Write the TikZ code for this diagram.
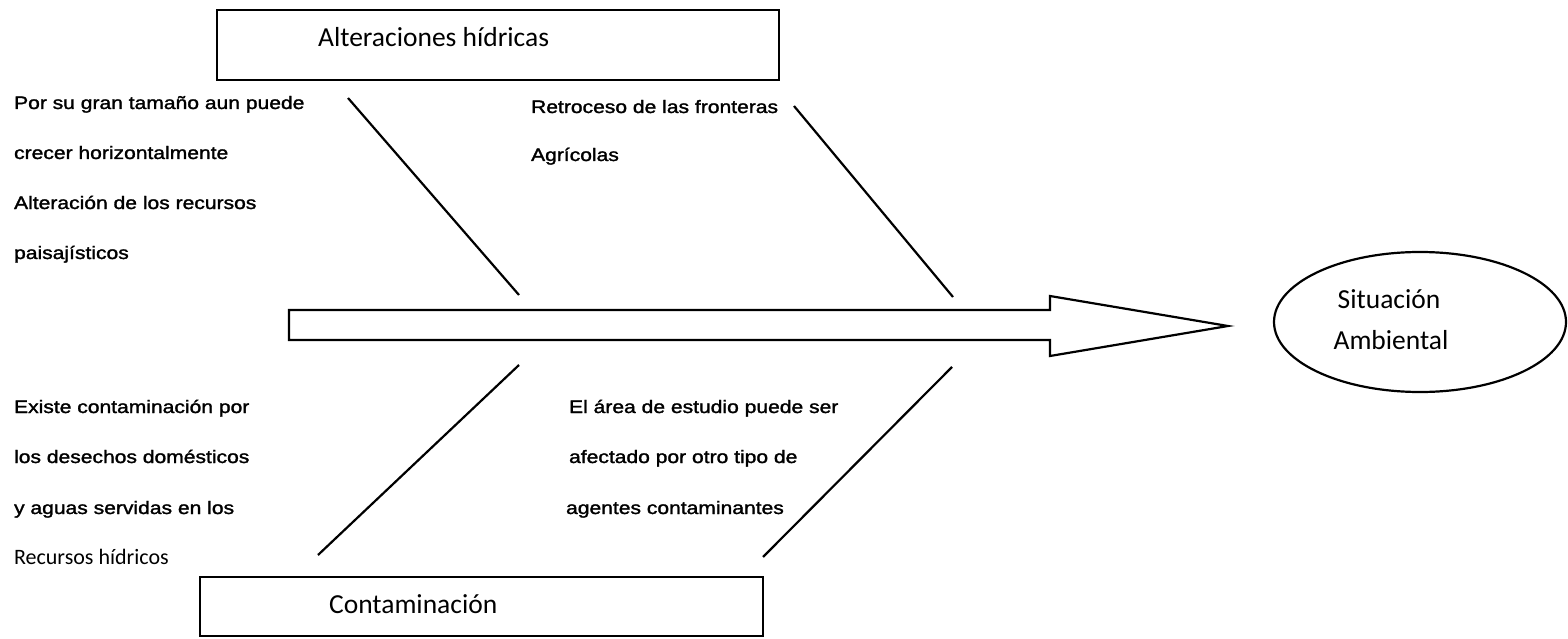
\documentclass[tikz,border=0pt]{standalone}
\usepackage{fontspec}
\newfontfamily\arialf[FakeStretch=1.17,FakeBold=1.6]{Liberation Sans}
\newfontfamily\calf{Carlito}
\usetikzlibrary{shapes.geometric}
\begin{document}
\begin{tikzpicture}[x=1pt,y=-1pt,line width=2.2pt,
  cause/.style={anchor=base west,inner sep=0pt,font=\arialf\fontsize{18}{20}\selectfont},
  smallcal/.style={anchor=base west,inner sep=0pt,font=\calf\fontsize{22}{24}\selectfont},
  bigcal/.style={inner sep=0pt,font=\calf\fontsize{27.5}{30}\selectfont},
  catbox/.style={draw,line width=2.2pt}]
\useasboundingbox (0,0) rectangle (1568,639);
\fill[white] (0,0) rectangle (1568,639);
% category boxes
\draw[catbox] (217,10) rectangle (779,80);
\node[bigcal,anchor=base west] (alt) at (317,47) {Alteraciones hídricas};
\draw[catbox] (200,577) rectangle (763,636);
\node[bigcal,anchor=base west] (cont) at (328,613) {Contaminación};
% spine arrow
\draw (289,310) -- (1050,310) -- (1050,296) -- (1228,326) -- (1050,356) -- (1050,340) -- (289,340) -- cycle;
% effect
\draw (1420,322) ellipse [x radius=146, y radius=70];
\node[bigcal,anchor=base] (sit) at (1389,308) {Situación};
\node[bigcal,anchor=base] (amb) at (1391,349) {Ambiental};
% bones
\coordinate (b1s) at (348,98);  \coordinate (b1e) at (519,295);
\coordinate (b2s) at (794,106); \coordinate (b2e) at (953,297);
\coordinate (b3s) at (519,365); \coordinate (b3e) at (318,555);
\coordinate (b4s) at (952,367); \coordinate (b4e) at (763,557);
\draw (b1s) -- (b1e);
\draw (b2s) -- (b2e);
\draw (b3s) -- (b3e);
\draw (b4s) -- (b4e);
% causes top-left
\node[cause] (t1) at (13,109) {Por su gran tamaño aun puede};
\node[cause] (t2) at (13,159) {crecer horizontalmente};
\node[cause] (t3) at (13,209) {Alteración de los recursos};
\node[cause] (t4) at (13,259) {paisajísticos};
% causes top-right
\node[cause] (r1) at (530,113) {Retroceso de las fronteras};
\node[cause] (r2) at (530,161) {Agrícolas};
% causes bottom-left
\node[cause] (l1) at (13,413) {Existe contaminación por};
\node[cause] (l2) at (13,463) {los desechos domésticos};
\node[cause] (l3) at (13,514) {y aguas servidas en los};
\node[smallcal] (l4) at (13,564) {Recursos hídricos};
% causes bottom-middle
\node[cause] (m1) at (568,413) {El área de estudio puede ser};
\node[cause] (m2) at (568,463) {afectado por otro tipo de};
\node[cause] (m3) at (565,514) {agentes contaminantes};
\end{tikzpicture}
\end{document}
